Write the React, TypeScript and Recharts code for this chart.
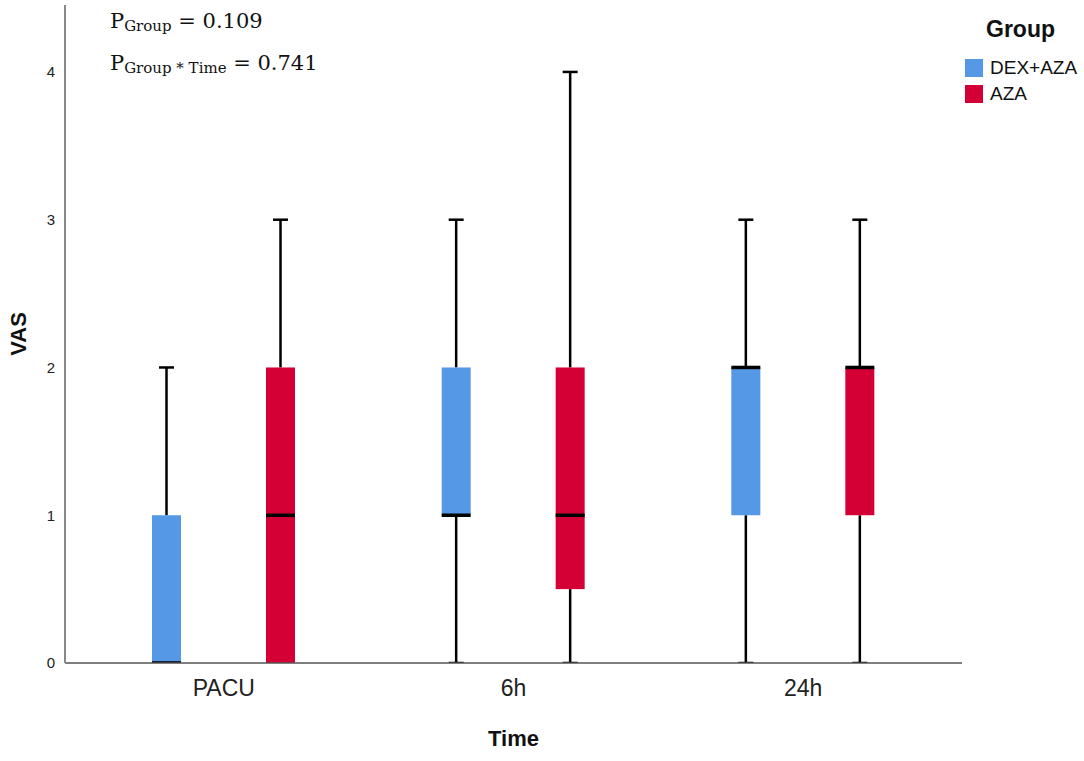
import React from 'react';
import { ComposedChart, Bar, XAxis, YAxis } from 'recharts';

const TIMES = ['PACU', '6h', '24h'];
const DEX_MIN = [0, 0, 0];
const DEX_Q1 = [0, 1, 1];
const DEX_MED = [0, 1, 2];
const DEX_Q3 = [1, 2, 2];
const DEX_MAX = [2, 3, 3];
const AZA_MIN = [0, 0, 0];
const AZA_Q1 = [0, 0.5, 1];
const AZA_MED = [1, 1, 2];
const AZA_Q3 = [2, 2, 2];
const AZA_MAX = [3, 4, 3];
const Y_TICKS = [0, 1, 2, 3, 4];
const GROUPS = ['DEX+AZA', 'AZA'];
const COLORS = ['#5599E6', '#D40035'];

const data = TIMES.map((t, i) => ({
  time: t,
  dex: { min: DEX_MIN[i], q1: DEX_Q1[i], med: DEX_MED[i], q3: DEX_Q3[i], max: DEX_MAX[i] },
  aza: { min: AZA_MIN[i], q1: AZA_Q1[i], med: AZA_MED[i], q3: AZA_Q3[i], max: AZA_MAX[i] },
}));

const FONT = '"Liberation Sans", Arial, sans-serif';

function makeBox(group: 'dex' | 'aza', color: string) {
  return (props: any) => {
    const { x, y, width, height, payload } = props;
    const s = payload[group];
    const top = Math.min(y, y + height);
    const h = Math.abs(height);
    const k = h / (s.max - s.min);
    const py = (v: number) => top + (s.max - v) * k;
    const cx = x + width / 2;
    const cap = 7.5;
    return (
      <g>
        <line x1={cx} x2={cx} y1={py(s.max)} y2={py(s.q3)} stroke="#000" strokeWidth={2.5} />
        <line x1={cx} x2={cx} y1={py(s.q1)} y2={py(s.min)} stroke="#000" strokeWidth={2.5} />
        <line x1={cx - cap} x2={cx + cap} y1={py(s.max)} y2={py(s.max)} stroke="#000" strokeWidth={2.5} />
        <line x1={cx - cap} x2={cx + cap} y1={py(s.min)} y2={py(s.min)} stroke="#000" strokeWidth={2.5} />
        <rect x={x} y={py(s.q3)} width={width} height={py(s.q1) - py(s.q3)} fill={color} />
        <line x1={x} x2={x + width} y1={py(s.med)} y2={py(s.med)} stroke="#000" strokeWidth={3.5} />
      </g>
    );
  };
}

const YLabel = (props: any) => {
  const vb = props.viewBox;
  const cy = vb.y + vb.height / 2;
  return (
    <text x={18} y={cy} transform={`rotate(-90, 18, ${cy})`} textAnchor="middle" dominantBaseline="central"
      style={{ fontFamily: FONT, fontSize: 22, fontWeight: 'bold', fill: '#111' }}>VAS</text>
  );
};

const XLabel = (props: any) => {
  const vb = props.viewBox;
  const cx = vb.x + vb.width / 2;
  return (
    <text x={cx} y={746} textAnchor="middle"
      style={{ fontFamily: FONT, fontSize: 22, fontWeight: 'bold', fill: '#111' }}>Time</text>
  );
};

export default function App() {
  return (
    <div style={{ position: 'absolute', left: 0, top: 0, width: 1084, height: 761, background: '#fff' }}>
      <ComposedChart width={1084} height={761} data={data}
        margin={{ top: 5, right: 122, bottom: 0, left: 0 }} barGap={85}>
        <XAxis dataKey="time" height={98} padding={{ left: 14, right: 14 }}
          axisLine={{ stroke: '#555', strokeWidth: 1.5 }} tickLine={false} tickMargin={11}
          tick={{ fontFamily: FONT, fontSize: 23, fill: '#222' }} label={<XLabel />} />
        <YAxis width={65} domain={[0, 4.453]} ticks={Y_TICKS} allowDataOverflow
          axisLine={{ stroke: '#888', strokeWidth: 2 }} tickLine={false} tickMargin={4}
          tick={{ fontFamily: FONT, fontSize: 15, fill: '#222' }} label={<YLabel />} />
        <Bar dataKey={(d: any) => [d.dex.min, d.dex.max]} barSize={29} isAnimationActive={false}
          fill={COLORS[0]} shape={makeBox('dex', COLORS[0])} />
        <Bar dataKey={(d: any) => [d.aza.min, d.aza.max]} barSize={29} isAnimationActive={false}
          fill={COLORS[1]} shape={makeBox('aza', COLORS[1])} />
      </ComposedChart>
      <svg width={400} height={90} style={{ position: 'absolute', left: 0, top: 0, pointerEvents: 'none' }}>
        <text x={110} y={28} style={{ fontFamily: '"DejaVu Serif", serif', fontSize: 21, fill: '#111' }}>
          P<tspan dy={3} style={{ fontSize: 15 }}>Group</tspan><tspan dy={-3}> = 0.109</tspan>
        </text>
        <text x={110} y={70} style={{ fontFamily: '"DejaVu Serif", serif', fontSize: 21, fill: '#111' }}>
          P<tspan dy={3} style={{ fontSize: 15 }}>Group * Time</tspan><tspan dy={-3}> = 0.741</tspan>
        </text>
      </svg>
      <div style={{ position: 'absolute', left: 965, top: 14, fontFamily: FONT, color: '#111' }}>
        <div style={{ fontSize: 23, fontWeight: 'bold', marginLeft: 21, lineHeight: '30px' }}>Group</div>
        <div style={{ marginTop: 11 }}>
          {GROUPS.map((g, i) => (
            <div key={g} style={{ display: 'flex', alignItems: 'center', height: 26 }}>
              <div style={{ width: 18, height: 18, background: COLORS[i], marginRight: 7 }} />
              <span style={{ fontSize: 19 }}>{g}</span>
            </div>
          ))}
        </div>
      </div>
    </div>
  );
}
